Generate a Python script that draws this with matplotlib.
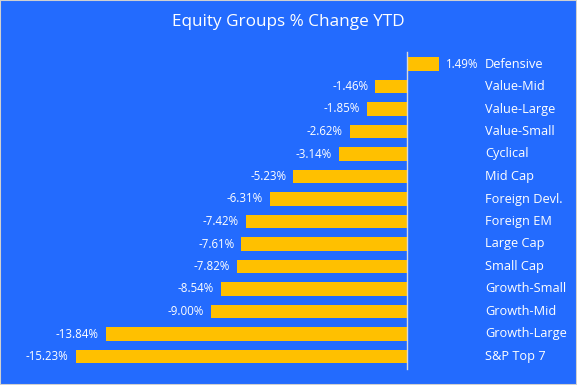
import matplotlib
matplotlib.use("Agg")
import matplotlib.pyplot as plt
from matplotlib.patches import Rectangle

categories = ["Defensive", "Value-Mid", "Value-Large", "Value-Small", "Cyclical",
              "Mid Cap", "Foreign Devl.", "Foreign EM", "Large Cap", "Small Cap",
              "Growth-Small", "Growth-Mid", "Growth-Large", "S&P Top 7"]
values = [1.49, -1.46, -1.85, -2.62, -3.14, -5.23, -6.31, -7.42, -7.61, -7.82,
          -8.54, -9.00, -13.84, -15.23]
title = "Equity Groups % Change YTD"

BG = "#236bfe"
BAR = "#ffc000"
W, H = 577, 385
FONT = ["Open Sans", "DejaVu Sans"]

fig = plt.figure(figsize=(W / 100, H / 100), dpi=100)
fig.patch.set_facecolor(BG)
ax = fig.add_axes([0, 0, 1, 1])
ax.set_facecolor(BG)
ax.axis("off")

zero_px = 407.0
scale = 21.75  # px per %
ax.set_xlim(-zero_px / scale, (W - zero_px) / scale)
top_px, step = 64.0, 22.5
ax.set_ylim((H - top_px) / step, -top_px / step)

ypos = list(range(len(categories)))
ax.barh(ypos, values, height=0.62, color=BAR, zorder=2)

ax.plot([0, 0], [(52 - top_px) / step, (369 - top_px) / step], color="#d9d9d9", lw=1, zorder=3)

off = 7 / scale
for y, v, c in zip(ypos, values, categories):
    lab = f"{v:.2f}%"
    if v < 0:
        ax.text(v - off, y, lab, ha="right", va="center", color="white", fontsize=8.3, family=FONT)
    else:
        ax.text(v + off, y, lab, ha="left", va="center", color="white", fontsize=8.3, family=FONT)
    ax.text((485 - zero_px) / scale, y, c, ha="left", va="center", color="white", fontsize=9.2, family=FONT)

fig.text(288.5 / W, 1 - 22 / H, title, ha="center", va="center", color="white", fontsize=12.3, family=FONT)

fig.add_artist(Rectangle((0, 0), 1, 1, transform=fig.transFigure, fill=False,
                         edgecolor="#d0d0d0", lw=1.5))

fig.savefig("out.png", dpi=100, facecolor=BG)
